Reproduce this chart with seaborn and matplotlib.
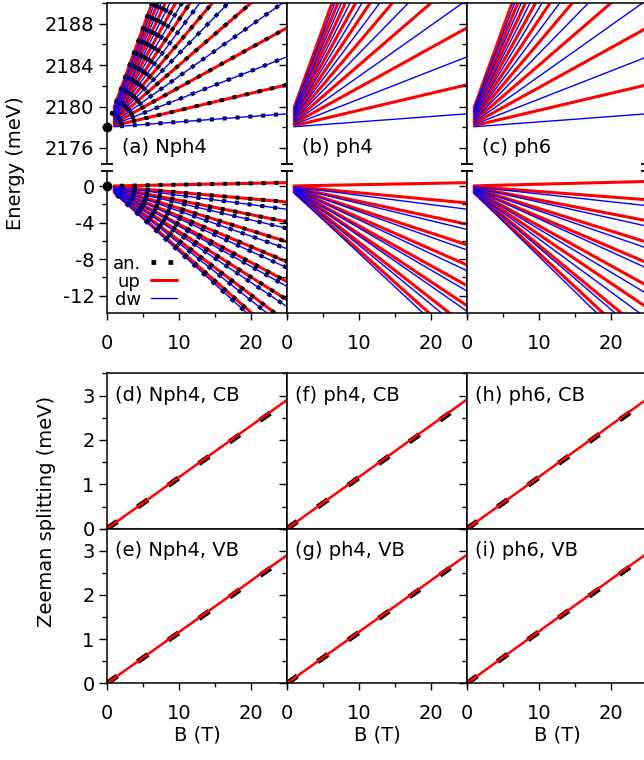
import matplotlib
matplotlib.use("Agg")
import matplotlib.pyplot as plt
import pandas as pd
import seaborn as sns
from matplotlib.ticker import MultipleLocator, FixedLocator, NullFormatter
from matplotlib.lines import Line2D

# ---------------- data ----------------
B_START = 1.0          # coloured (numerical) fan lines start here
B_END = 25.0
B_ORIGIN = 0.0         # analytic lines start at B = 0

CB_E0 = 2178.0         # conduction-band origin (meV)
VB_E0 = 0.0            # valence-band origin (meV)

# conduction band fan (upper row), energies at B = 1 T and B = 25 T
cb_up_start = [2178.16, 2178.38, 2178.60, 2178.82, 2179.04, 2179.26, 2179.48, 2179.70, 2179.92]
cb_up_end = [2182.1, 2187.6, 2193.0, 2198.5, 2204.0, 2209.5, 2215.0, 2220.5, 2226.0]
cb_dw_start = [2178.05, 2178.27, 2178.49, 2178.71, 2178.93, 2179.15, 2179.37, 2179.59, 2179.81]
cb_dw_end = [2179.3, 2184.8, 2190.3, 2195.8, 2201.3, 2206.8, 2212.3, 2217.8, 2223.3]

# valence band fans (lower row)
vb_a_up_start = [0.01, -0.07, -0.16, -0.24, -0.33, -0.42, -0.50, -0.60, -0.69]
vb_a_up_end = [0.37, -1.75, -3.92, -6.10, -8.30, -10.46, -12.46, -14.9, -17.3]
vb_a_dw_start = [-0.10, -0.19, -0.27, -0.36, -0.44, -0.53, -0.63, -0.72]
vb_a_dw_end = [-2.54, -4.64, -6.86, -8.94, -11.0, -13.2, -15.65, -17.9]

vb_b_up_start = [0.01, -0.07, -0.17, -0.26, -0.35, -0.44, -0.52, -0.62, -0.70]
vb_b_up_end = [0.37, -1.85, -4.18, -6.43, -8.64, -10.9, -13.1, -15.4, -17.6]
vb_b_dw_start = [-0.10, -0.19, -0.28, -0.37, -0.46, -0.55, -0.65, -0.74]
vb_b_dw_end = [-2.54, -4.75, -7.00, -9.27, -11.5, -13.7, -16.2, -18.4]

vb_c_up_start = [0.02, -0.06, -0.15, -0.25, -0.34, -0.44, -0.53, -0.65, -0.74]
vb_c_up_end = [0.50, -1.50, -3.80, -6.15, -8.40, -10.9, -13.3, -16.2, -18.4]
vb_c_dw_start = [-0.09, -0.18, -0.27, -0.36, -0.47, -0.58, -0.68, -0.77]
vb_c_dw_end = [-2.15, -4.40, -6.80, -9.00, -11.8, -14.5, -16.9, -19.3]

# Zeeman splitting (meV) at B = 0 and B = 25 T
zee_B = [0.0, 25.0]
zee_an = {"d": [0.0, 2.87], "e": [0.0, 2.87], "f": [0.0, 2.88],
          "g": [0.0, 2.88], "h": [0.0, 2.89], "i": [0.0, 2.91]}
zee_num = {"d": [0.0, 2.90], "e": [0.0, 2.90], "f": [0.0, 2.91],
           "g": [0.0, 2.91], "h": [0.0, 2.92], "i": [0.0, 2.94]}

top_labels = ["(a) Nph4", "(b) ph4", "(c) ph6"]
zee_labels = [["(d) Nph4, CB", "(f) ph4, CB", "(h) ph6, CB"],
              ["(e) Nph4, VB", "(g) ph4, VB", "(i) ph6, VB"]]
zee_keys = [["d", "f", "h"], ["e", "g", "i"]]

# ---------------- helpers ----------------
def fan_frame(starts, ends, b0):
    rows = []
    for i, (s, e) in enumerate(zip(starts, ends)):
        rows.append({"line": i, "B": b0, "E": s})
        rows.append({"line": i, "B": B_END, "E": e})
    return pd.DataFrame(rows)


def an_frame(e0, ends):
    return fan_frame([e0] * len(ends), ends, B_ORIGIN)


sns.set_style("ticks")
plt.rcParams["font.family"] = ["DejaVu Sans"]
plt.rcParams["font.size"] = 14
plt.rcParams["axes.linewidth"] = 1.1
plt.rcParams["axes.unicode_minus"] = False
for k in ("text.color", "axes.labelcolor", "xtick.color", "ytick.color", "axes.edgecolor"):
    plt.rcParams[k] = "black"

W, H = 644, 760
fig = plt.figure(figsize=(W / 100, H / 100), dpi=100)


def rect(x0, y0, x1, y1):
    return [x0 / W, 1 - y1 / H, (x1 - x0) / W, (y1 - y0) / H]


cols = [(107, 287), (287, 467), (467, 647)]
row_eu = (3, 163.5)
row_el = (170.5, 313)
row_z1 = (373.3, 528.7)
row_z2 = (528.7, 683.3)

RED = "#ff0000"
BLUE = "#0000ff"
AN_STYLE = (0, (1.0, 2.2))
AN_LW = 2.9


def style_axis(ax, ylim, ymaj, ymin, show_ylabels, show_xlabels):
    ax.set_xlim(0, 25)
    ax.set_ylim(*ylim)
    ax.xaxis.set_major_locator(FixedLocator([0, 10, 20]))
    ax.xaxis.set_minor_locator(MultipleLocator(5))
    ax.yaxis.set_major_locator(FixedLocator(ymaj))
    ax.yaxis.set_minor_locator(MultipleLocator(ymin))
    ax.tick_params(axis="both", which="both", direction="out", top=False, right=False,
                   width=1.0, labelsize=14, color="black", labelcolor="black")
    ax.tick_params(axis="y", which="major", length=6, pad=3)
    ax.tick_params(axis="y", which="minor", length=3.5)
    ax.tick_params(axis="x", which="major", length=5, pad=10)
    ax.tick_params(axis="x", which="minor", length=3)
    if not show_ylabels:
        ax.yaxis.set_major_formatter(NullFormatter())
    if not show_xlabels:
        ax.xaxis.set_major_formatter(NullFormatter())
    ax.set_xlabel("")
    ax.set_ylabel("")


cb_sets = [(cb_up_start, cb_up_end, cb_dw_start, cb_dw_end)] * 3
vb_sets = [(vb_a_up_start, vb_a_up_end, vb_a_dw_start, vb_a_dw_end),
           (vb_b_up_start, vb_b_up_end, vb_b_dw_start, vb_b_dw_end),
           (vb_c_up_start, vb_c_up_end, vb_c_dw_start, vb_c_dw_end)]

for c, (x0, x1) in enumerate(cols):
    # ---------- upper energy panel (CB) ----------
    axu = fig.add_axes(rect(x0, row_eu[0], x1, row_eu[1]))
    us, ue, ds, de = cb_sets[c]
    sns.lineplot(data=fan_frame(us, ue, B_START), x="B", y="E", units="line", estimator=None,
                 color=RED, linewidth=2.2, ax=axu, legend=False)
    if c == 0:
        for ends in (ue, de):
            sns.lineplot(data=an_frame(CB_E0, ends), x="B", y="E", units="line", estimator=None,
                         color="black", linewidth=AN_LW, linestyle=AN_STYLE, ax=axu, legend=False)
    sns.lineplot(data=fan_frame(ds, de, B_START), x="B", y="E", units="line", estimator=None,
                 color=BLUE, linewidth=1.0, ax=axu, legend=False)
    if c == 0:
        axu.plot([B_ORIGIN], [CB_E0], "o", color="black", ms=6, clip_on=False, zorder=5)
    style_axis(axu, (2174.5, 2190.0), [2176, 2180, 2184, 2188], 2, c == 0, False)
    axu.spines["bottom"].set_visible(False)
    axu.tick_params(axis="x", which="both", bottom=False)
    axu.text(0.082, 0.097, top_labels[c], transform=axu.transAxes, fontsize=14,
             ha="left", va="center")
    axu.plot([0, 1], [0, 0], transform=axu.transAxes, ls="none", marker="_", ms=8,
             mew=1.3, color="black", clip_on=False)

    # ---------- lower energy panel (VB) ----------
    axl = fig.add_axes(rect(x0, row_el[0], x1, row_el[1]))
    us, ue, ds, de = vb_sets[c]
    sns.lineplot(data=fan_frame(us, ue, B_START), x="B", y="E", units="line", estimator=None,
                 color=RED, linewidth=2.2, ax=axl, legend=False)
    if c == 0:
        for ends in (ue, de):
            sns.lineplot(data=an_frame(VB_E0, ends), x="B", y="E", units="line", estimator=None,
                         color="black", linewidth=AN_LW, linestyle=AN_STYLE, ax=axl, legend=False)
    sns.lineplot(data=fan_frame(ds, de, B_START), x="B", y="E", units="line", estimator=None,
                 color=BLUE, linewidth=1.0, ax=axl, legend=False)
    if c == 0:
        axl.plot([B_ORIGIN], [VB_E0], "o", color="black", ms=6, clip_on=False, zorder=5)
    style_axis(axl, (-13.9, 1.7), [-12, -8, -4, 0], 2, c == 0, True)
    axl.spines["top"].set_visible(False)
    axl.plot([0, 1], [1, 1], transform=axl.transAxes, ls="none", marker="_", ms=8,
             mew=1.3, color="black", clip_on=False)
    if c == 0:
        handles = [Line2D([], [], color="black", lw=3.4, linestyle=(0, (1.0, 2.6))),
                   Line2D([], [], color=RED, lw=2.2),
                   Line2D([], [], color=BLUE, lw=1.0)]
        axl.legend(handles, ["an.", "up", "dw"], loc="lower left", bbox_to_anchor=(0.03, 0.03),
                   frameon=False, markerfirst=False, fontsize=13, labelspacing=0.0,
                   handlelength=1.4, handletextpad=0.6, borderpad=0.0, borderaxespad=0.0)

    # ---------- Zeeman splitting panels ----------
    for r, (y0, y1) in enumerate([row_z1, row_z2]):
        axz = fig.add_axes(rect(x0, y0, x1, y1))
        key = zee_keys[r][c]
        dfa = pd.DataFrame({"B": zee_B, "Z": zee_an[key]})
        dfn = pd.DataFrame({"B": zee_B, "Z": zee_num[key]})
        sns.lineplot(data=dfa, x="B", y="Z", color="black", linewidth=3.8,
                     linestyle=(0, (2.4, 4.7)), ax=axz, legend=False)
        sns.lineplot(data=dfn, x="B", y="Z", color=RED, linewidth=1.8, ax=axz, legend=False)
        style_axis(axz, (0, 3.5), [0, 1, 2, 3], 0.5, c == 0, r == 1)
        axz.text(0.044, 0.86, zee_labels[r][c], transform=axz.transAxes, fontsize=14,
                 ha="left", va="center")
        if r == 1:
            axz.set_xlabel("B (T)", fontsize=14, labelpad=2)

fig.text(16 / W, 1 - 163 / H, "Energy (meV)", rotation=90, ha="center", va="center", fontsize=14)
fig.text(47 / W, 1 - 511 / H, "Zeeman splitting (meV)", rotation=90, ha="center", va="center",
         fontsize=14)

fig.savefig("out.png", dpi=100)
